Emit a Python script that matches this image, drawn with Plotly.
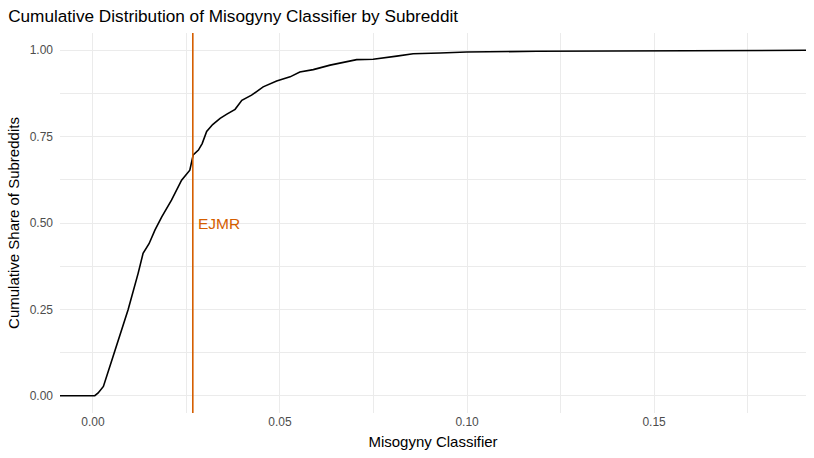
import plotly.graph_objects as go

# ECDF (classifier score, cumulative share of subreddits)
score = [-0.0088, 0.0005, 0.0014, 0.0028, 0.0054, 0.0094, 0.0121, 0.0134, 0.0150, 0.0166,
         0.0184, 0.0210, 0.0237, 0.0252, 0.0259, 0.0268, 0.0282, 0.0292, 0.0304, 0.0320,
         0.0340, 0.0358, 0.0380, 0.0398, 0.0424, 0.0455, 0.0491, 0.0527, 0.0553, 0.0589,
         0.0634, 0.0705, 0.0749, 0.0812, 0.0856, 0.0928, 0.0999, 0.1186, 0.1400, 0.1790,
         0.1820, 0.1906]
share = [0.000, 0.000, 0.008, 0.027, 0.114, 0.249, 0.355, 0.412, 0.440, 0.480,
         0.518, 0.566, 0.624, 0.645, 0.653, 0.697, 0.711, 0.730, 0.765, 0.785,
         0.803, 0.815, 0.829, 0.855, 0.870, 0.894, 0.911, 0.923, 0.937, 0.944,
         0.957, 0.973, 0.974, 0.983, 0.990, 0.992, 0.995, 0.997, 0.998, 0.998,
         1.000, 1.000]

ejmr_score = 0.0267
ejmr_label = "EJMR"
orange = "#D55E00"

x_ticks = [0.0, 0.05, 0.10, 0.15]
y_ticks = [0.0, 0.25, 0.50, 0.75, 1.0]

fig = go.Figure()

fig.add_trace(go.Scatter(x=score, y=share, mode="lines",
                         line=dict(color="black", width=1.6),
                         showlegend=False, hoverinfo="skip"))

# EJMR reference line
fig.add_vline(x=ejmr_score, line_color=orange, line_width=1.6)
fig.add_annotation(x=ejmr_score, y=0.5, text=ejmr_label, showarrow=False,
                   xanchor="left", yanchor="middle", xshift=3,
                   font=dict(color=orange, size=15.5))

grid = "#EBEBEB"
fig.update_layout(
    title=dict(text="Cumulative Distribution of Misogyny Classifier by Subreddit",
               x=0.01, xanchor="left", y=0.965, yanchor="middle",
               font=dict(size=17.2, color="black")),
    width=814, height=458,
    margin=dict(l=60, r=8, t=33, b=45),
    plot_bgcolor="white", paper_bgcolor="white",
    font=dict(family="Liberation Sans, Arial, sans-serif"),
)

fig.update_xaxes(range=[-0.0088, 0.1906], tickvals=x_ticks, tickformat=".2f",
                 showgrid=True, gridcolor=grid, gridwidth=1.1, zeroline=False,
                 showline=False, ticks="",
                 tickfont=dict(size=12, color="#4D4D4D"),
                 minor=dict(tickvals=[0.025, 0.075, 0.125, 0.175], showgrid=True,
                            gridcolor=grid, gridwidth=0.6),
                 title=dict(text="Misogyny Classifier", font=dict(size=15, color="black"),
                            standoff=8))
fig.update_yaxes(range=[-0.05, 1.05], tickvals=y_ticks, tickformat=".2f",
                 showgrid=True, gridcolor=grid, gridwidth=1.1, zeroline=False,
                 showline=False, ticks="", ticklabelstandoff=6,
                 tickfont=dict(size=12, color="#4D4D4D"),
                 minor=dict(tickvals=[0.125, 0.375, 0.625, 0.875], showgrid=True,
                            gridcolor=grid, gridwidth=0.6),
                 title=dict(text="Cumulative Share of Subreddits",
                            font=dict(size=15, color="black"), standoff=6))

fig.write_html("out.html", config={"displayModeBar": False},
               post_script="document.body.style.margin='0';")
